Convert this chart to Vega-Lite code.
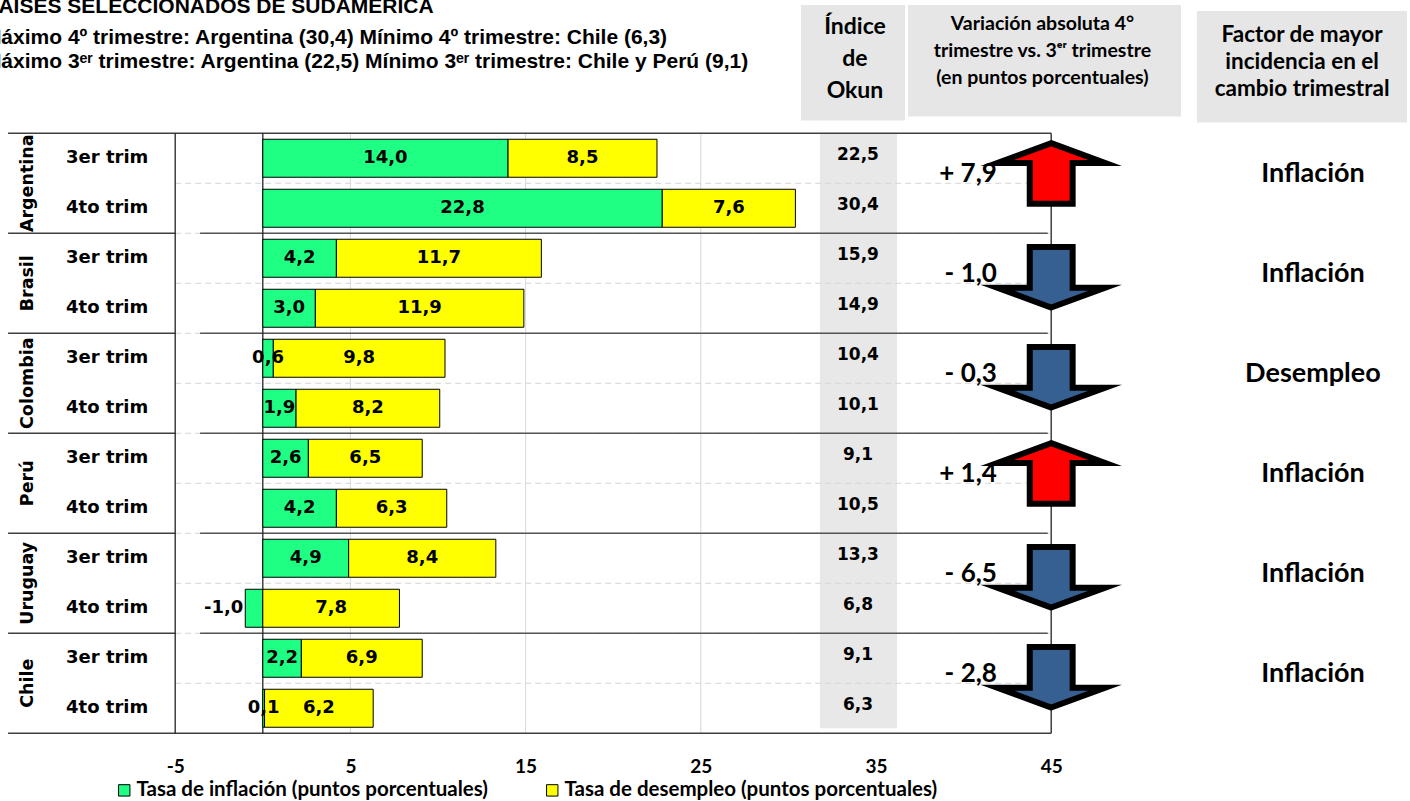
{
  "$schema": "https://vega.github.io/schema/vega-lite/v6.json",
  "width": 1410,
  "height": 758,
  "autosize": "none",
  "padding": {"left": 0, "top": 0, "right": 0, "bottom": 43},
  "background": "white",
  "config": {
    "view": {"stroke": null},
    "locale": {"number": {"decimal": ",", "thousands": ".", "grouping": [3], "currency": ["", " €"], "minus": "-"}},
    "text": {"font": "Lato", "fontWeight": "bold", "color": "black"},
    "axisX": {"domain": false, "ticks": false, "grid": false, "labelFont": "Lato", "labelFontWeight": "bold", "labelFontSize": 19, "labelColor": "black", "labelPadding": -1, "labelFlush": false, "labelOverlap": false, "titleOpacity": 0},
    "legend": {"orient": "none", "legendX": 114, "legendY": 780, "direction": "horizontal", "padding": 0, "symbolType": "square", "symbolSize": 130, "symbolStrokeColor": "black", "symbolStrokeWidth": 1, "labelFont": "Lato", "labelFontWeight": "bold", "labelFontSize": 20.5, "labelColor": "black", "labelOffset": 2, "columnPadding": 54, "labelLimit": 600}
  },
  "datasets": {
    "rows": [
      {"pais": "Argentina", "trim": "3er trim", "infl": 14.0, "unemp": 8.5, "okun": 22.5},
      {"pais": "Argentina", "trim": "4to trim", "infl": 22.8, "unemp": 7.6, "okun": 30.4},
      {"pais": "Brasil", "trim": "3er trim", "infl": 4.2, "unemp": 11.7, "okun": 15.9},
      {"pais": "Brasil", "trim": "4to trim", "infl": 3.0, "unemp": 11.9, "okun": 14.9},
      {"pais": "Colombia", "trim": "3er trim", "infl": 0.6, "unemp": 9.8, "okun": 10.4},
      {"pais": "Colombia", "trim": "4to trim", "infl": 1.9, "unemp": 8.2, "okun": 10.1},
      {"pais": "Perú", "trim": "3er trim", "infl": 2.6, "unemp": 6.5, "okun": 9.1},
      {"pais": "Perú", "trim": "4to trim", "infl": 4.2, "unemp": 6.3, "okun": 10.5},
      {"pais": "Uruguay", "trim": "3er trim", "infl": 4.9, "unemp": 8.4, "okun": 13.3},
      {"pais": "Uruguay", "trim": "4to trim", "infl": -1.0, "unemp": 7.8, "okun": 6.8},
      {"pais": "Chile", "trim": "3er trim", "infl": 2.2, "unemp": 6.9, "okun": 9.1},
      {"pais": "Chile", "trim": "4to trim", "infl": 0.1, "unemp": 6.2, "okun": 6.3}
    ],
    "groups": [
      {"pais": "Argentina", "delta": 7.9, "factor": "Inflación"},
      {"pais": "Brasil", "delta": -1.0, "factor": "Inflación"},
      {"pais": "Colombia", "delta": -0.3, "factor": "Desempleo"},
      {"pais": "Perú", "delta": 1.4, "factor": "Inflación"},
      {"pais": "Uruguay", "delta": -6.5, "factor": "Inflación"},
      {"pais": "Chile", "delta": -2.8, "factor": "Inflación"}
    ]
  },
  "layer": [
    {
      "data": {"name": "rows"},
      "transform": [{"window": [{"op": "row_number", "as": "rn"}]}, {"calculate": "datum.rn - 1", "as": "idx"}],
      "mark": {"type": "bar", "orient": "horizontal", "size": 38, "opacity": 0},
      "encoding": {
        "x": {"field": "okun", "type": "quantitative", "scale": {"domain": [-15, 65.48], "nice": false, "zero": false},
          "axis": {"values": [-5, 5, 15, 25, 35, 45], "title": null}},
        "y": {"field": "idx", "type": "quantitative", "scale": {"domain": [-3.065, 11.895], "reverse": true, "nice": false, "zero": false}, "axis": null}
      }
    },
    {
      "data": {"values": [{}]},
      "mark": {"type": "rect", "color": "#E6E6E6"},
      "encoding": {"x": {"datum": 30.72}, "x2": {"datum": 36.655}, "y": {"datum": -3.065, "axis": null}, "y2": {"datum": -0.756}}
    },
    {
      "data": {"values": [{}]},
      "mark": {"type": "rect", "color": "#E6E6E6"},
      "encoding": {"x": {"datum": 36.83}, "x2": {"datum": 52.41}, "y": {"datum": -3.065, "axis": null}, "y2": {"datum": -0.835}}
    },
    {
      "data": {"values": [{}]},
      "mark": {"type": "rect", "color": "#E6E6E6"},
      "encoding": {"x": {"datum": 53.32}, "x2": {"datum": 65.31}, "y": {"datum": -2.946, "axis": null}, "y2": {"datum": -0.716}}
    },
    {
      "data": {"values": [{}]},
      "mark": {"type": "rect", "color": "#E8E8E8"},
      "encoding": {"x": {"datum": 31.8}, "x2": {"datum": 36.2}, "y": {"datum": -0.5, "axis": null}, "y2": {"datum": 11.4}}
    },
    {
      "data": {"values": [{"g": 5}, {"g": 15}, {"g": 25}]},
      "mark": {"type": "rule", "color": "#D9D9D9", "strokeWidth": 1},
      "encoding": {"x": {"field": "g", "type": "quantitative"}, "y": {"datum": -0.5, "axis": null}, "y2": {"datum": 11.5}}
    },
    {
      "data": {"name": "rows"},
      "transform": [{"window": [{"op": "row_number", "as": "rn"}]}, {"calculate": "datum.rn - 1", "as": "idx"}, {"filter": "datum.idx < 11"}, {"calculate": "datum.idx + 0.5", "as": "yl"}],
      "mark": {"type": "rule", "color": "#D4D4D4", "strokeWidth": 1, "strokeDash": [6, 4]},
      "encoding": {"x": {"datum": -5}, "x2": {"datum": 44.9}, "y": {"field": "yl", "type": "quantitative", "axis": null}}
    },
    {
      "data": {"name": "rows"},
      "transform": [{"window": [{"op": "row_number", "as": "rn"}]}, {"calculate": "datum.rn - 1", "as": "idx"}, {"filter": "datum.idx < 11 && datum.trim == '4to trim'"}, {"calculate": "datum.idx + 0.5", "as": "yl"}],
      "mark": {"type": "rule", "color": "#404040", "strokeWidth": 1.5},
      "encoding": {"x": {"datum": -14.54}, "x2": {"datum": -5}, "y": {"field": "yl", "type": "quantitative", "axis": null}}
    },
    {
      "data": {"name": "rows"},
      "transform": [{"window": [{"op": "row_number", "as": "rn"}]}, {"calculate": "datum.rn - 1", "as": "idx"}, {"filter": "datum.idx < 11 && datum.trim == '4to trim'"}, {"calculate": "datum.idx + 0.5", "as": "yl"}],
      "mark": {"type": "rule", "color": "#555555", "strokeWidth": 1.5},
      "encoding": {"x": {"datum": -3.58}, "x2": {"datum": 44.8}, "y": {"field": "yl", "type": "quantitative", "axis": null}}
    },
    {
      "data": {"values": [{"b": -0.5}, {"b": 11.5}]},
      "mark": {"type": "rule", "color": "#404040", "strokeWidth": 1.5},
      "encoding": {"x": {"datum": -14.54}, "x2": {"datum": 45}, "y": {"field": "b", "type": "quantitative", "axis": null}}
    },
    {
      "data": {"values": [{"v": -5}, {"v": 0}, {"v": 45}]},
      "mark": {"type": "rule", "color": "#222222", "strokeWidth": 1.3},
      "encoding": {"x": {"field": "v", "type": "quantitative"}, "y": {"datum": -0.5, "axis": null}, "y2": {"datum": 11.5}}
    },
    {
      "data": {"name": "rows"},
      "transform": [{"window": [{"op": "row_number", "as": "rn"}]}, {"calculate": "datum.rn - 1", "as": "idx"}],
      "mark": {"type": "bar", "orient": "horizontal", "size": 38, "stroke": "black", "strokeWidth": 1},
      "encoding": {
        "x": {"field": "infl", "type": "quantitative"},
        "x2": {"datum": 0},
        "y": {"field": "idx", "type": "quantitative", "axis": null},
        "color": {"datum": "Tasa de inflación (puntos porcentuales)", "type": "nominal",
          "scale": {"domain": ["Tasa de inflación (puntos porcentuales)", "Tasa de desempleo (puntos porcentuales)"], "range": ["#1EFF84", "#FFFF00"]},
          "legend": {"title": null}}
      }
    },
    {
      "data": {"name": "rows"},
      "transform": [{"window": [{"op": "row_number", "as": "rn"}]}, {"calculate": "datum.rn - 1", "as": "idx"}, {"calculate": "max(datum.infl, 0)", "as": "u0"}, {"calculate": "datum.u0 + datum.unemp", "as": "u1"}],
      "mark": {"type": "bar", "orient": "horizontal", "size": 38, "stroke": "black", "strokeWidth": 1},
      "encoding": {
        "x": {"field": "u0", "type": "quantitative"},
        "x2": {"field": "u1"},
        "y": {"field": "idx", "type": "quantitative", "axis": null},
        "color": {"datum": "Tasa de desempleo (puntos porcentuales)", "type": "nominal"}
      }
    },
    {
      "data": {"name": "rows"},
      "transform": [{"window": [{"op": "row_number", "as": "rn"}]}, {"calculate": "datum.rn - 1", "as": "idx"}, {"filter": "datum.infl >= 0"}, {"calculate": "datum.infl / 2", "as": "m"}],
      "mark": {"type": "text", "font": "DejaVu Sans", "fontSize": 18, "align": "center", "baseline": "middle"},
      "encoding": {"x": {"field": "m", "type": "quantitative"}, "y": {"field": "idx", "type": "quantitative", "axis": null}, "text": {"field": "infl", "type": "quantitative", "format": ".1f"}}
    },
    {
      "data": {"name": "rows"},
      "transform": [{"window": [{"op": "row_number", "as": "rn"}]}, {"calculate": "datum.rn - 1", "as": "idx"}, {"filter": "datum.infl < 0"}],
      "mark": {"type": "text", "font": "DejaVu Sans", "fontSize": 18, "align": "right", "baseline": "middle", "dx": -2},
      "encoding": {"x": {"field": "infl", "type": "quantitative"}, "y": {"field": "idx", "type": "quantitative", "axis": null}, "text": {"field": "infl", "type": "quantitative", "format": ".1f"}}
    },
    {
      "data": {"name": "rows"},
      "transform": [{"window": [{"op": "row_number", "as": "rn"}]}, {"calculate": "datum.rn - 1", "as": "idx"}, {"calculate": "max(datum.infl, 0) + datum.unemp / 2", "as": "m2"}],
      "mark": {"type": "text", "font": "DejaVu Sans", "fontSize": 18, "align": "center", "baseline": "middle"},
      "encoding": {"x": {"field": "m2", "type": "quantitative"}, "y": {"field": "idx", "type": "quantitative", "axis": null}, "text": {"field": "unemp", "type": "quantitative", "format": ".1f"}}
    },
    {
      "data": {"name": "rows"},
      "transform": [{"window": [{"op": "row_number", "as": "rn"}]}, {"calculate": "datum.rn - 1", "as": "idx"}],
      "mark": {"type": "text", "font": "DejaVu Sans", "fontSize": 17, "align": "center", "baseline": "middle", "dy": -3},
      "encoding": {"x": {"datum": 33.97}, "y": {"field": "idx", "type": "quantitative", "axis": null}, "text": {"field": "okun", "type": "quantitative", "format": ".1f"}}
    },
    {
      "data": {"name": "rows"},
      "transform": [{"window": [{"op": "row_number", "as": "rn"}]}, {"calculate": "datum.rn - 1", "as": "idx"}],
      "mark": {"type": "text", "font": "DejaVu Sans", "fontSize": 18, "align": "left", "baseline": "middle"},
      "encoding": {"x": {"datum": -11.23}, "y": {"field": "idx", "type": "quantitative", "axis": null}, "text": {"field": "trim", "type": "nominal"}}
    },
    {
      "data": {"name": "groups"},
      "transform": [{"window": [{"op": "row_number", "as": "rn"}]}, {"calculate": "2 * (datum.rn - 1) + 0.5", "as": "gy"}],
      "mark": {"type": "text", "font": "DejaVu Sans", "fontSize": 17.5, "align": "center", "baseline": "middle", "angle": 270},
      "encoding": {"x": {"datum": -13.4}, "y": {"field": "gy", "type": "quantitative", "axis": null}, "text": {"field": "pais", "type": "nominal"}}
    },
    {
      "data": {"name": "groups"},
      "transform": [{"window": [{"op": "row_number", "as": "rn"}]}, {"calculate": "2 * (datum.rn - 1) + 0.5", "as": "gy"}, {"calculate": "datum.delta > 0 ? 'up' : 'down'", "as": "dir"}],
      "mark": {"type": "point", "filled": true, "opacity": 1, "size": 12100, "stroke": "black", "strokeWidth": 6, "strokeJoin": "miter", "strokeMiterLimit": 12, "yOffset": -6},
      "encoding": {
        "x": {"datum": 45},
        "y": {"field": "gy", "type": "quantitative", "axis": null},
        "shape": {"field": "dir", "type": "nominal", "scale": {"domain": ["up", "down"], "range": ["M0,-0.62L0.98,-0.26L0.39,-0.26L0.39,0.48L-0.39,0.48L-0.39,-0.26L-0.98,-0.26Z", "M0,0.55L0.98,0.19L0.39,0.19L0.39,-0.55L-0.39,-0.55L-0.39,0.19L-0.98,0.19Z"]}, "legend": null},
        "fill": {"field": "dir", "type": "nominal", "scale": {"domain": ["up", "down"], "range": ["#FF0000", "#376092"]}, "legend": null}
      }
    },
    {
      "data": {"name": "groups"},
      "transform": [{"window": [{"op": "row_number", "as": "rn"}]}, {"calculate": "2 * (datum.rn - 1) + 0.5", "as": "gy"}, {"calculate": "(datum.delta > 0 ? '+ ' : '- ') + replace(format(abs(datum.delta), '.1f'), '.', ',')", "as": "lab"}],
      "mark": {"type": "text", "fontSize": 26, "align": "right", "baseline": "middle", "dy": -9},
      "encoding": {"x": {"datum": 41.9}, "y": {"field": "gy", "type": "quantitative", "axis": null}, "text": {"field": "lab", "type": "nominal"}}
    },
    {
      "data": {"name": "groups"},
      "transform": [{"window": [{"op": "row_number", "as": "rn"}]}, {"calculate": "2 * (datum.rn - 1) + 0.5", "as": "gy"}],
      "mark": {"type": "text", "fontSize": 27, "align": "center", "baseline": "middle", "dy": -9},
      "encoding": {"x": {"datum": 59.94}, "y": {"field": "gy", "type": "quantitative", "axis": null}, "text": {"field": "factor", "type": "nominal"}}
    },
    {
      "data": {"values": [{}]},
      "mark": {"type": "text", "fontSize": 23, "align": "center", "baseline": "middle", "lineHeight": 32},
      "encoding": {"x": {"datum": 33.8}, "y": {"datum": -2.631, "axis": null}, "text": {"value": ["Índice", "de", "Okun"]}}
    },
    {
      "data": {"values": [{}]},
      "mark": {"type": "text", "fontSize": 19.5, "align": "center", "baseline": "middle", "lineHeight": 27},
      "encoding": {"x": {"datum": 44.5}, "y": {"datum": -2.681, "axis": null}, "text": {"value": ["Variación absoluta 4°", "trimestre vs. 3ᵉʳ trimestre", "(en puntos porcentuales)"]}}
    },
    {
      "data": {"values": [{}]},
      "mark": {"type": "text", "fontSize": 22.5, "align": "center", "baseline": "middle", "lineHeight": 27},
      "encoding": {"x": {"datum": 59.32}, "y": {"datum": -2.473, "axis": null}, "text": {"value": ["Factor de mayor", "incidencia en el", "cambio trimestral"]}}
    },
    {
      "data": {"values": [{}]},
      "mark": {"type": "text", "font": "Liberation Sans", "fontSize": 21, "align": "left", "baseline": "alphabetic"},
      "encoding": {"x": {"datum": -15.8}, "y": {"datum": -2.907, "axis": null}, "text": {"value": "PAÍSES SELECCIONADOS DE SUDAMÉRICA"}}
    },
    {
      "data": {"values": [{}]},
      "mark": {"type": "text", "font": "Liberation Sans", "fontSize": 21, "align": "left", "baseline": "alphabetic"},
      "encoding": {"x": {"datum": -15.92}, "y": {"datum": -2.295, "axis": null}, "text": {"value": "Máximo 4º trimestre: Argentina (30,4) Mínimo 4º trimestre: Chile (6,3)"}}
    },
    {
      "data": {"values": [{}]},
      "mark": {"type": "text", "font": "Liberation Sans", "fontSize": 21, "align": "left", "baseline": "alphabetic"},
      "encoding": {"x": {"datum": -15.92}, "y": {"datum": -1.802, "axis": null}, "text": {"value": "Máximo 3ᵉʳ trimestre: Argentina (22,5) Mínimo 3ᵉʳ trimestre: Chile y Perú (9,1)"}}
    }
  ]
}
